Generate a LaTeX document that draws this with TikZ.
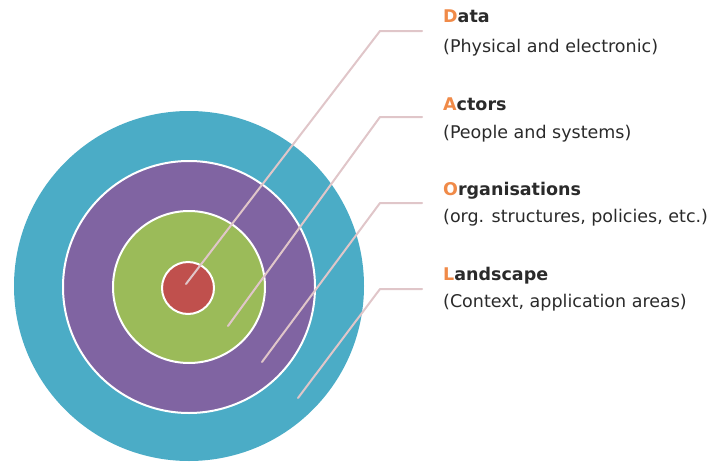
\documentclass[tikz,border=0pt]{standalone}
\usepackage{fontspec}
\setmainfont{DejaVu Sans}
\definecolor{ringteal}{HTML}{4BACC6}
\definecolor{ringpurple}{HTML}{8064A2}
\definecolor{ringgreen}{HTML}{9BBB59}
\definecolor{ringred}{HTML}{C0504D}
\definecolor{accent}{HTML}{F08A48}
\definecolor{textcol}{HTML}{2A2A2A}
\definecolor{leadercol}{HTML}{E0C6C9}
\begin{document}
\begin{tikzpicture}[x=1pt,y=-1pt,
  ring/.style={circle, fill=#1, draw=white, line width=2pt, inner sep=0pt},
  leader/.style={draw=leadercol, line width=2pt, line cap=round, line join=round},
  title/.style={anchor=base west, inner sep=0pt, font=\bfseries\fontsize{17.5}{21}\selectfont, text=textcol},
  sub/.style={anchor=base west, inner sep=0pt, font=\fontsize{17.5}{21}\selectfont, text=textcol},
]
\useasboundingbox (0,0) rectangle (728,463);

% concentric rings
\node[ring=ringteal, draw=none, minimum size=350pt] (landscape) at (189,286) {};
\node[ring=ringpurple, minimum size=252pt] (organisations) at (189,287) {};
\node[ring=ringgreen, minimum size=152pt] (actors) at (189,287) {};
\node[ring=ringred, minimum size=52pt] (data) at (188,288) {};

% leader anchor points
\coordinate (d0) at (186,284);  \coordinate (d1) at (380,31);  \coordinate (d2) at (422,31);
\coordinate (a0) at (228,326);  \coordinate (a1) at (380,117); \coordinate (a2) at (422,117);
\coordinate (o0) at (262,362);  \coordinate (o1) at (380,203); \coordinate (o2) at (422,203);
\coordinate (l0) at (298,398);  \coordinate (l1) at (380,289); \coordinate (l2) at (422,289);

% leaders
\draw[leader] (d0) -- (d1) -- (d2);
\draw[leader] (a0) -- (a1) -- (a2);
\draw[leader] (o0) -- (o1) -- (o2);
\draw[leader] (l0) -- (l1) -- (l2);

% labels
\node[title] (tD) at (443,23) {\textcolor{accent}{D}ata};
\node[sub]   (sD) at (443,52) {(Physical and electronic)};
\node[title] (tA) at (443,110) {\textcolor{accent}{A}ctors};
\node[sub]   (sA) at (443,138) {(People and systems)};
\node[title] (tO) at (443,195) {\textcolor{accent}{O}rganisations};
\node[sub]   (sO) at (443,222) {(org. structures, policies, etc.)};
\node[title] (tL) at (443,280) {\textcolor{accent}{L}andscape};
\node[sub]   (sL) at (443,307) {(Context, application areas)};
\end{tikzpicture}
\end{document}
